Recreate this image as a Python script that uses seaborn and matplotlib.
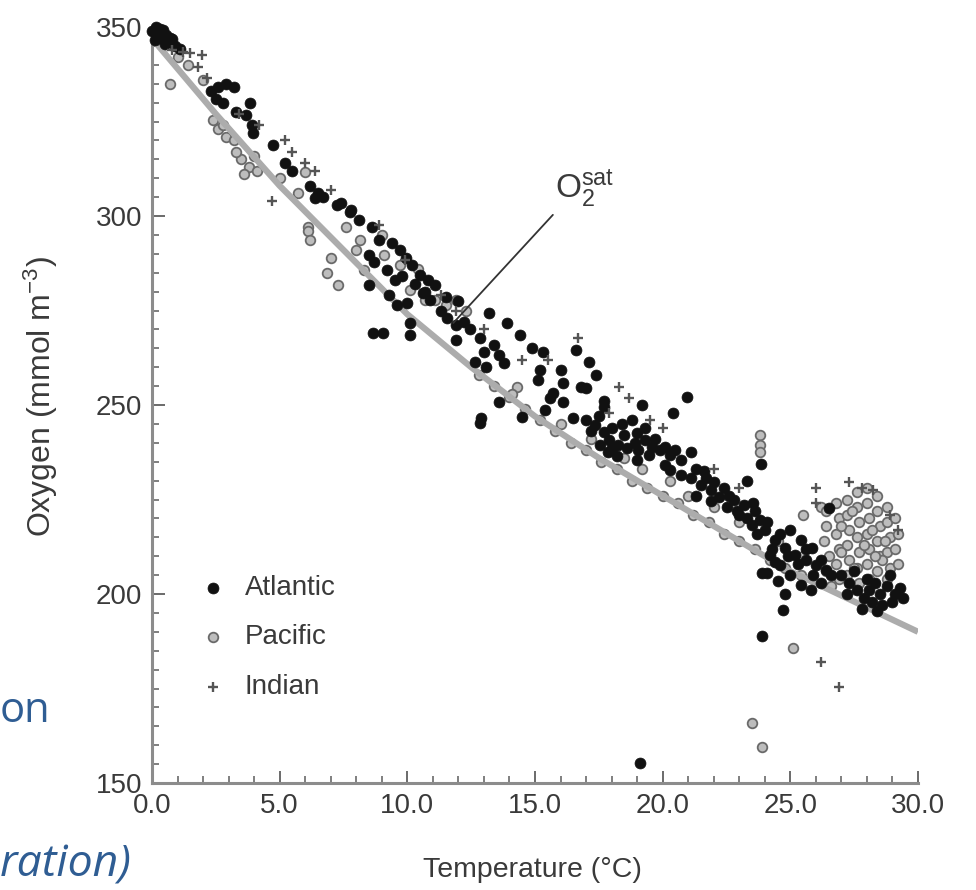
import numpy as np
import pandas as pd
import matplotlib
matplotlib.use("Agg")
import matplotlib.pyplot as plt
from matplotlib.ticker import MultipleLocator, FormatStrFormatter
import seaborn as sns

# ---------------- data ----------------
atl_t = [0.0, 0.2, 0.4, 0.1, 0.5, 0.3, 0.7, 0.9, 0.15, 0.55, 0.25, 0.45, 0.6, 0.8, 1.1,
         2.3, 2.6, 2.9, 3.2, 2.5, 2.8, 3.84, 3.3, 3.7, 3.96, 3.9, 4.75, 5.2, 5.5, 6.2, 6.5, 6.7, 6.4, 7.25, 7.75,
         7.4, 7.8, 8.1, 8.6, 8.9, 9.4, 9.7, 9.95, 10.2, 10.5, 8.5, 8.7, 9.2, 9.5, 8.5, 9.6, 10.1, 10.1, 8.65, 9.05,
         10.6, 10.9, 11.3, 11.55, 11.9, 11.1, 10.8, 9.8, 10.3, 10.7, 11.5, 12.2, 12.0, 9.3, 10.0,
         13.2, 13.9, 12.45, 12.85, 11.9, 13.4, 13.0, 13.6, 14.4, 14.9, 15.3, 12.65, 13.1, 13.8, 15.2, 15.1, 16.0,
         16.1, 16.6, 17.1, 17.4, 16.8, 17.0, 15.7, 15.6, 13.6, 12.9, 12.85, 14.5, 16.1, 16.5, 15.4,
         17.0, 17.35, 17.7, 17.9, 18.25, 18.5, 17.55, 17.85, 19.0, 19.3, 19.6, 19.9, 20.3, 20.7, 19.45, 19.05,
         18.8, 19.2, 20.4, 20.95, 17.7, 17.7, 18.2, 18.6,
         17.2, 17.5, 18.0, 18.4, 18.9, 19.3, 19.7, 20.1, 20.5, 18.0, 19.0, 20.1,
         20.3, 20.7, 21.1, 21.5, 21.9, 22.2, 21.7, 21.3, 21.1, 22.5, 22.8, 23.2, 23.3, 23.55,
         21.3, 21.6, 22.0, 22.4, 22.6, 22.9, 21.9,
         23.0, 23.5, 24.0, 24.4, 24.8, 25.2, 25.6, 26.0, 26.4, 24.2, 24.6, 25.0, 25.4, 25.8, 26.6, 23.8, 25.0,
         25.4, 25.85, 26.2, 23.9, 23.85, 26.5, 24.1,
         23.3, 23.7, 24.1, 24.3, 24.6, 24.9, 25.3, 25.6, 25.9, 26.2, 24.5, 24.4, 23.6, 24.8,
         27.0, 27.3, 27.6, 27.9, 28.2, 28.5, 28.8, 29.1, 29.4, 27.5, 28.0, 28.3, 28.6, 29.0, 27.8, 28.4, 27.2,
         28.9, 29.3, 28.1,
         23.9, 24.7, 19.1]
atl_o2 = [349, 348.5, 347, 346.5, 345.5, 349.5, 347, 345, 350, 348, 347.5, 349.2, 346, 346.8, 344.3,
          333, 334, 335, 334, 331, 330, 330, 327.5, 326.7, 322, 324, 318.8, 314, 312, 308, 306, 305, 304.8, 303, 301,
          303.4, 301.6, 299, 297, 293.7, 292.9, 291, 289, 287, 284.4, 289.7, 287.8, 285.7, 283, 281.7, 276.5, 271.7,
          268.5, 269, 269,
          279.6, 277.8, 275, 273, 271.2, 281.7, 283, 284, 282, 280, 278.5, 272, 277.5, 279, 277,
          274.3, 271.7, 270, 267.7, 267.2, 265.9, 264, 263.2, 268.5, 265, 264, 261.4, 260, 261.1, 259.3, 256.6, 259.3,
          255.8, 264.6, 261.4, 258, 254.8, 254.5, 253.2, 251.9, 250.8, 246.6, 245.2, 246.8, 250.8, 246.6, 248.7,
          246, 244.7, 242.9, 240.7, 239.4, 242, 239.4, 237.6, 242.6, 240.7, 238.9, 238, 236.8, 235.4, 236.8, 238,
          246, 250, 247.9, 252, 251, 249.5, 236.5, 238.5,
          243, 247, 244, 245, 240, 244, 241, 239, 238, 238.5, 235.5, 234,
          232.8, 231.5, 230.7, 228.8, 227.5, 225.7, 230.7, 226, 237.5, 223, 225, 223.5, 230, 224,
          233, 232.5, 229.5, 228, 226, 222, 224.5,
          221, 218.3, 217, 214.3, 212.2, 210.3, 209, 207.7, 206.3, 210.3, 207.7, 205, 202.4, 201, 205, 219.6, 217,
          214.3, 212.2, 209, 205.6, 234.5, 222.8, 205.6,
          220, 216, 219, 212, 216, 210, 208, 212, 205, 203, 203.5, 208.5, 222, 200,
          205, 203, 201, 199, 198, 200, 202, 200, 199, 206, 204, 203, 197, 198, 196, 195.5, 200,
          205, 201.5, 201,
          189, 195.8, 155.3]

pac_t = [0.7, 1.0, 1.4, 2.0, 2.6, 2.9, 3.2, 2.8, 2.4, 3.5, 3.8, 4.1, 3.6, 4.0, 3.3, 5.0, 5.7, 6.0, 6.1, 6.1,
         6.2, 7.0, 6.85, 7.3,
         7.6, 8.15, 8.0, 9.1, 9.7, 8.3, 10.1, 10.7, 11.1, 11.5, 11.9, 12.3, 9.0, 10.4,
         12.8, 13.4, 14.0, 14.6, 15.2, 15.8, 16.4, 17.0, 17.6, 18.2, 18.8, 19.4, 20.0, 20.6, 21.2, 21.8, 22.4,
         23.0, 23.6, 24.2, 24.8, 25.4,
         14.3, 14.1, 18.5, 19.2, 20.3, 21.0, 22.0, 23.0, 24.5, 25.5, 16.0, 17.2,
         23.8, 23.8, 23.8, 25.5, 26.2,
         26.4, 26.4, 26.3, 26.5, 26.4, 26.6,
         26.8, 26.9, 26.8, 26.9, 26.8, 26.9,
         27.2, 27.2, 27.3, 27.2, 27.3, 27.2,
         27.6, 27.6, 27.7, 27.6, 27.7, 27.6, 27.7,
         28.0, 28.0, 28.1, 28.0, 28.1, 28.0, 28.1,
         28.4, 28.4, 28.5, 28.4, 28.5, 28.4,
         28.8, 28.8, 28.9, 28.8, 28.9, 28.8,
         29.1, 29.2, 29.1, 29.2,
         27.0, 27.4, 27.9, 28.2, 28.6, 27.0, 27.5, 28.3, 28.7,
         25.1, 23.5, 23.9]
pac_o2 = [335, 342, 340, 336, 323, 321, 320, 324, 325.5, 315, 313, 312, 311, 316, 317, 310, 306, 311.6, 297, 296,
          293.6, 289, 285, 281.7,
          297, 293.7, 291, 289.7, 287, 285.7, 280.4, 277.8, 277.8, 276.5, 277.8, 275, 295, 286,
          258, 255, 252, 249, 246, 243, 240, 238, 235, 233, 230, 228, 226, 224, 221, 219, 216,
          214, 212, 209, 207, 205,
          254.8, 253, 236, 233, 230, 226, 223, 219, 214, 210, 245, 241,
          242, 239.5, 237.5, 221, 223,
          222, 218, 214, 210, 206, 202,
          224, 220, 216, 212, 208, 204,
          225, 221, 217, 213, 209, 205,
          227, 223, 219, 215, 211, 207, 203,
          228, 224, 220, 216, 212, 208, 204,
          226, 222, 218, 214, 210, 206,
          223, 219, 215, 211, 207, 204,
          220, 216, 212, 208,
          218, 222, 213, 217, 209, 211, 207, 210, 214,
          185.7, 166, 159.5]

ind_t = [0.8, 1.2, 1.5, 1.96, 1.8, 2.15, 3.4, 4.2, 5.2, 5.5, 6.0, 6.4, 7.0, 4.7, 8.9, 9.9, 11.3, 11.9, 13.0,
         14.5, 15.5, 16.7, 17.9, 18.3, 18.7, 19.5, 20.0, 22.0, 23.0, 26.0, 26.0, 27.3, 27.8, 28.25, 28.9, 29.2,
         26.2, 26.9]
ind_o2 = [344, 343.5, 343, 342.6, 339.4, 336.5, 327, 324, 320, 317, 314, 312, 307, 304, 297.6, 288.4, 279, 275,
          270, 262, 262, 267.7, 248, 254.8, 251.9, 246, 244, 233, 228, 228, 224, 229.6, 228, 227.5, 221, 217,
          182, 175.4]

sat_t = [0, 2.5, 5, 7.5, 10, 12.5, 15, 17.5, 20, 22.5, 25, 27.5, 30]
sat_o2 = [347, 327, 308, 291, 274, 260, 247, 236, 226, 216, 206, 198, 190]

x_ticks = [0, 5, 10, 15, 20, 25, 30]
y_ticks = [150, 200, 250, 300, 350]

# ---------------- plotting ----------------
sns.set_theme(style="white")
FAM = ['Liberation Sans', 'DejaVu Sans']
plt.rcParams['font.family'] = FAM
plt.rcParams['mathtext.fontset'] = 'custom'
plt.rcParams['mathtext.rm'] = 'Liberation Sans'
plt.rcParams['mathtext.it'] = 'Liberation Sans'

TXT = '#3a3a3a'
fig = plt.figure(figsize=(9.76, 8.9), dpi=100)
ax = fig.add_axes([152/976, 107/890, 766/976, 756/890])

sat_df = pd.DataFrame({'T': sat_t, 'O2': sat_o2})
atl = pd.DataFrame({'T': atl_t, 'O2': atl_o2})
pac = pd.DataFrame({'T': pac_t, 'O2': pac_o2})
ind = pd.DataFrame({'T': ind_t, 'O2': ind_o2})

sns.lineplot(data=sat_df, x='T', y='O2', ax=ax, color='#acacac', lw=4.5, zorder=3,
             solid_capstyle='butt', legend=False)
sns.scatterplot(data=pac, x='T', y='O2', ax=ax, marker='o', s=48, facecolor='#bdbdbd',
                edgecolor='#6a6a6a', linewidth=1.3, label='Pacific', zorder=2, clip_on=False)
sns.scatterplot(data=atl, x='T', y='O2', ax=ax, marker='o', s=62, color='#111111',
                edgecolor='#111111', linewidth=0.5, label='Atlantic', zorder=4, clip_on=False)
sns.scatterplot(data=ind, x='T', y='O2', ax=ax, marker='+', s=50, color='#555555',
                linewidth=1.7, label='Indian', zorder=5, clip_on=False)

ax.set_xlim(0, 30)
ax.set_ylim(150, 350)
ax.set_xticks(x_ticks)
ax.set_yticks(y_ticks)
ax.xaxis.set_major_formatter(FormatStrFormatter('%.1f'))
ax.yaxis.set_major_formatter(FormatStrFormatter('%d'))
ax.xaxis.set_minor_locator(MultipleLocator(1))
ax.yaxis.set_minor_locator(MultipleLocator(5))
for s in ['top', 'right']:
    ax.spines[s].set_visible(False)
for s in ['left', 'bottom']:
    ax.spines[s].set_color('#8c8c8c')
    ax.spines[s].set_linewidth(2.2)
ax.tick_params(which='major', direction='in', length=9, width=1.4, color='#6a6a6a',
               labelsize=20, labelcolor=TXT, pad=7)
ax.tick_params(which='minor', direction='in', length=5, width=1.2, color='#6a6a6a')
ax.tick_params(axis='y', which='both', left=True)
ax.tick_params(axis='x', which='both', bottom=True)

ax.set_xlabel('Temperature (°C)', fontsize=20.5, color=TXT)
ax.xaxis.set_label_coords((532 - 152) / 766, (783 - 857) / 756)
ax.set_ylabel('Oxygen (mmol m$^{-3}$)', fontsize=23, color=TXT)
ax.yaxis.set_label_coords((60 - 152) / 766, (783 - 396) / 756)

# O2 sat annotation
ax.plot([15.7, 11.8], [300.3, 271.7], color='#333333', lw=1.3, zorder=6)
ax.text(15.8, 301.5, r'O$_2^{\rm sat}$', fontsize=24, color=TXT, ha='left', va='bottom')

# legend
h, l = ax.get_legend_handles_labels()
order = [l.index('Atlantic'), l.index('Pacific'), l.index('Indian')]
leg = ax.legend([h[i] for i in order], [l[i] for i in order], loc='upper left',
                bbox_to_anchor=(0.047, 0.29), frameon=False, fontsize=20,
                handletextpad=0.65, labelspacing=0.85, handlelength=1.0, borderaxespad=0)
for t in leg.get_texts():
    t.set_color(TXT)

# remnants of slide text around the picture
fig.text(0.0, 1 - 722/890, 'on', fontsize=30, color='#2F5D93', ha='left',
         va='baseline', family=['Open Sans', 'DejaVu Sans'])
fig.text(0.0, 1 - 876/890, 'ration)', fontsize=32, color='#2F5D93', ha='left',
         va='baseline', style='italic', family=['Open Sans', 'DejaVu Sans'])

fig.savefig('out.png', dpi=100)
